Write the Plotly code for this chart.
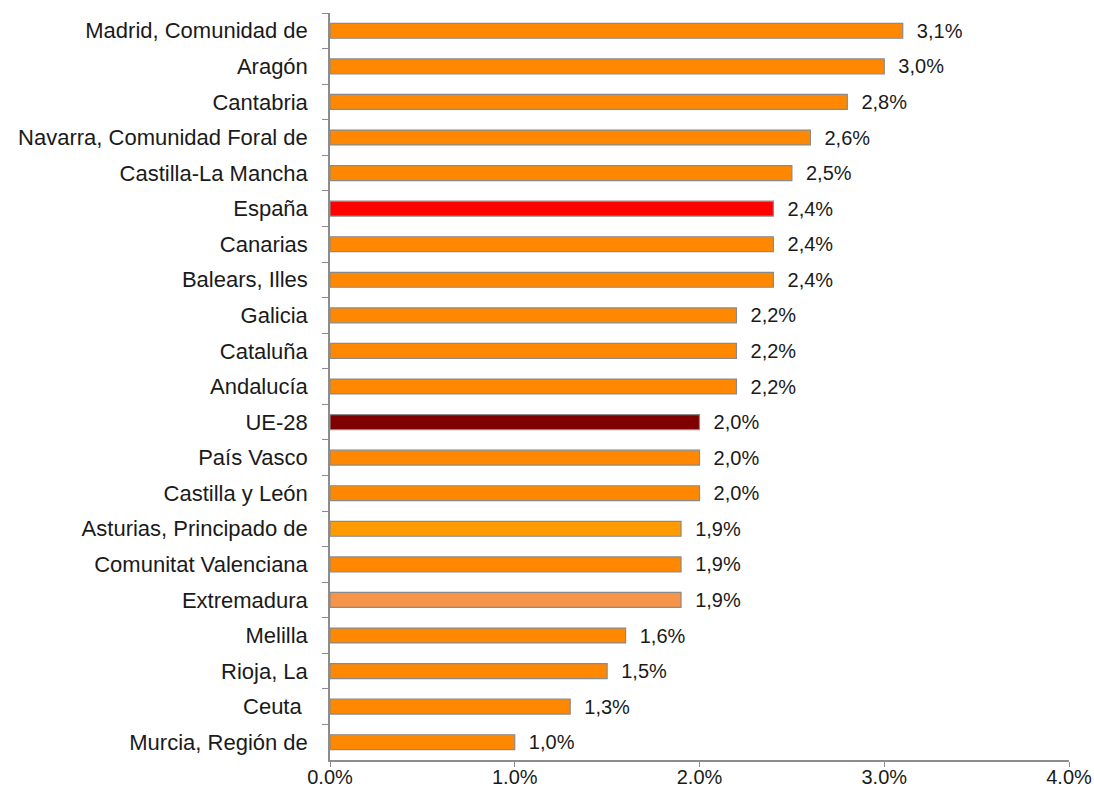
"""Bar chart: regional values vs España and UE-28."""

import plotly.graph_objects as go

regions = [
    "Madrid, Comunidad de", "Aragón", "Cantabria", "Navarra, Comunidad Foral de",
    "Castilla-La Mancha", "España", "Canarias", "Balears, Illes", "Galicia",
    "Cataluña", "Andalucía", "UE-28", "País Vasco", "Castilla y León",
    "Asturias, Principado de", "Comunitat Valenciana", "Extremadura", "Melilla",
    "Rioja, La", "Ceuta\u00a0", "Murcia, Región de",
]
values = [3.1, 3.0, 2.8, 2.6, 2.5, 2.4, 2.4, 2.4, 2.2, 2.2, 2.2,
          2.0, 2.0, 2.0, 1.9, 1.9, 1.9, 1.6, 1.5, 1.3, 1.0]
x_ticks = [0, 1, 2, 3, 4]

COLORS = {
    "default": "#ff8800",
    "España": "#ff0000",
    "UE-28": "#7f0000",
    "Asturias, Principado de": "#ff9a00",
    "Extremadura": "#f6954a",
}

bar_colors = [COLORS.get(r, COLORS["default"]) for r in regions]
# leading nbsp pushes the value a bit further from the bar end
labels = ["\u00a0\u00a0" + f"{v:.1f}%".replace(".", ",") for v in values]

fig = go.Figure(
    go.Bar(
        y=regions,
        x=values,
        orientation="h",
        width=0.42,
        marker=dict(color=bar_colors, line=dict(color="#8a8a8a", width=1.2)),
        text=labels,
        textposition="outside",
        constraintext="none",
        textfont=dict(color="#1a1a1a", size=20),
        cliponaxis=False,
    )
)

fig.update_layout(
    width=1094,
    height=792,
    font=dict(family="Liberation Sans, Arial, sans-serif", color="#1a1a1a"),
    paper_bgcolor="white",
    plot_bgcolor="white",
    showlegend=False,
    margin=dict(l=330, r=25, t=13, b=32),
    xaxis=dict(
        range=[0, 4],
        tickvals=x_ticks,
        ticktext=[f"{t:.1f}%" for t in x_ticks],
        showgrid=False,
        zeroline=False,
        showline=True,
        linecolor="#8c8c8c",
        linewidth=1.5,
        ticks="outside",
        ticklen=5,
        tickcolor="#8c8c8c",
        ticklabelstandoff=-7,
        tickfont=dict(size=20),
        automargin=False,
    ),
    yaxis=dict(
        autorange="reversed",
        showgrid=False,
        showline=True,
        linecolor="#8c8c8c",
        linewidth=1.5,
        ticks="outside",
        tickson="boundaries",
        ticklen=6,
        tickcolor="#8c8c8c",
        ticklabelstandoff=16,
        tickfont=dict(size=22),
        automargin=False,
    ),
)

# drop the default 8px body margin so the figure fills the window exactly
fig.write_html(
    "out.html",
    config={"displayModeBar": False},
    post_script="document.body.style.margin = '0';",
)
